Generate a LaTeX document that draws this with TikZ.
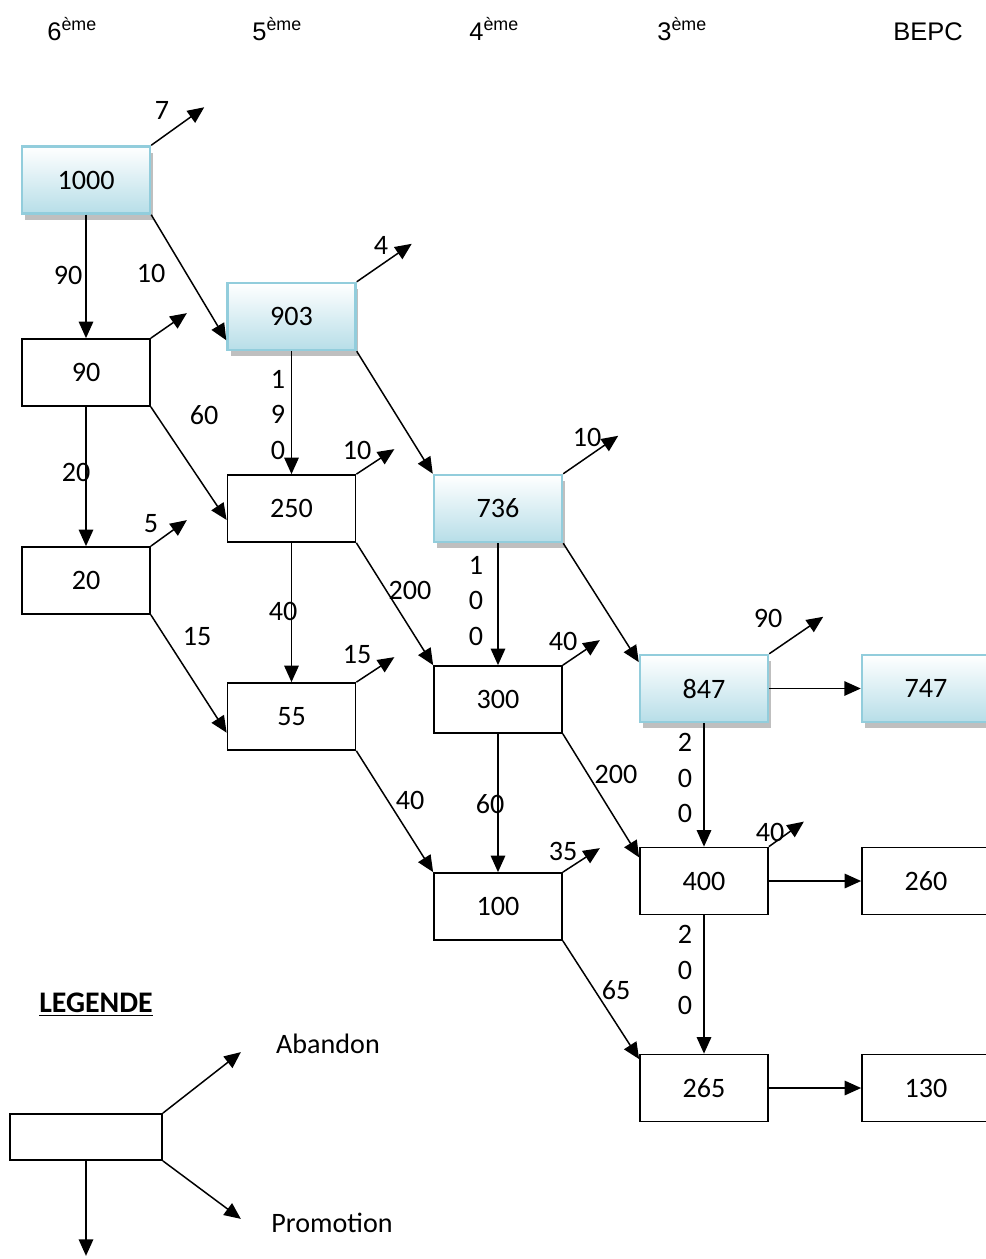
\documentclass[tikz,border=0pt]{standalone}
\usepackage{fontspec}
\setmainfont{Carlito}
\newfontfamily\arialfont{Liberation Sans}
\usetikzlibrary{arrows.meta,shadows}
\definecolor{cadre}{RGB}{146,205,220}
\definecolor{fond}{RGB}{183,222,232}

\begin{document}
\begin{tikzpicture}[x=0.02cm,y=-0.02cm,
    boite/.style={draw,line width=1pt,minimum width=2.56cm,minimum height=1.34cm,inner sep=0pt,font=\fontsize{16}{19}\selectfont},
    bleu/.style={boite,draw=cadre,line width=1.4pt,top color=white,bottom color=fond,
      drop shadow={shadow xshift=0.06cm,shadow yshift=-0.12cm,fill=gray!50,opacity=1}},
    arr/.style={-{Triangle[length=3.3mm,width=2.9mm]},line width=0.85pt},
    lab/.style={font=\fontsize{16}{20}\selectfont,align=center,inner sep=0pt},
    titre/.style={anchor=base west,inner sep=0pt,font=\arialfont\fontsize{14.5}{17}\selectfont}
  ]
  \useasboundingbox (0,0) rectangle (985,1259);

  % classes
  \node[titre] (h6) at (47,40) {6\textsuperscript{ème}};
  \node[titre] (h5) at (252,40) {5\textsuperscript{ème}};
  \node[titre] (h4) at (469,40) {4\textsuperscript{ème}};
  \node[titre] (h3) at (657,40) {3\textsuperscript{ème}};
  \node[titre] (hb) at (893,40) {BEPC};

  % effectifs
  \node[bleu] (n1000) at (86,180) {1000};
  \node[bleu] (n903) at (291.5,316.5) {903};
  \node[bleu] (n736) at (498,508.5) {736};
  \node[bleu] (n847) at (704,688.5) {847};
  \node[bleu] (n747) at (926,688.5) {747};
  \node[boite] (n90) at (86,372.5) {90};
  \node[boite] (n20) at (86,580.5) {20};
  \node[boite] (n250) at (291.5,508.5) {250};
  \node[boite] (n55) at (291.5,716.5) {55};
  \node[boite] (n300) at (498,699.5) {300};
  \node[boite] (n100) at (498,906.5) {100};
  \node[boite] (n400) at (704,881) {400};
  \node[boite] (n260) at (926,881) {260};
  \node[boite] (n265) at (704,1088) {265};
  \node[boite] (n130) at (926,1088) {130};

  % abandons
  \foreach \n/\dx/\dy in {1000/53/-38,903/55/-38,90/36/-25,250/38/-25,20/36/-26,736/55/-38,
                          55/38/-25,300/37/-25,847/54/-37,400/35/-25,100/37/-24} {
    \path (n\n.north east) ++(\dx,\dy) coordinate (ab\n);
    \draw[arr] (n\n.north east) -- (ab\n);
  }
  \foreach \t/\x/\y in {7/162/110,4/381/245,10/357/450,5/151/524,10/587/437,15/357/655,
                        40/563/641,90/768/618,40/770/832,35/563/851} {
    \node[lab] at (\x,\y) {\t};
  }

  % redoublements
  \draw[arr] (n1000) -- (n90);
  \draw[arr] (n90) -- (n20);
  \draw[arr] (n903) -- (n250);
  \draw[arr] (n250) -- (n55);
  \draw[arr] (n736) -- (n300);
  \draw[arr] (n300) -- (n100);
  \draw[arr] (n847) -- (n400);
  \draw[arr] (n400) -- (n265);

  % promotions
  \draw[arr] (n1000.south east) -- (n903.200);
  \draw[arr] (n90.south east) -- (n250.190);
  \draw[arr] (n20.south east) -- (n55.194);
  \draw[arr] (n903.south east) -- (n736.north west);
  \draw[arr] (n250.south east) -- (n300.north west);
  \draw[arr] (n55.south east) -- (n100.north west);
  \draw[arr] (n736.south east) -- (n847.158);
  \draw[arr] (n300.south east) -- (n400.160);
  \draw[arr] (n100.south east) -- (n265.156);
  \draw[arr] (n847) -- (n747);
  \draw[arr] (n400) -- (n260);
  \draw[arr] (n265) -- (n130);

  % valeurs
  \node[lab] at (68,275) {90};
  \node[lab] at (151,273) {10};
  \node[lab] at (204,415) {60};
  \node[lab] at (76,472) {20};
  \node[lab] at (197,637) {15};
  \node[lab] at (278,415) {1\\9\\0};
  \node[lab] at (283,611) {40};
  \node[lab] at (410,590) {200};
  \node[lab] at (410,800) {40};
  \node[lab] at (476,601) {1\\0\\0};
  \node[lab] at (490,804) {60};
  \node[lab] at (616,774) {200};
  \node[lab] at (616,990) {65};
  \node[lab] at (685,778) {2\\0\\0};
  \node[lab] at (685,970) {2\\0\\0};

  % legende
  \node[lab,font=\bfseries\fontsize{17}{20}\selectfont] (leg) at (96,1005) {\underline{LEGENDE}};
  \node[draw,line width=1pt,minimum width=3.04cm,minimum height=0.92cm,inner sep=0pt] (lbox) at (86,1137) {};
  \path (lbox.north east) ++(78,-61) coordinate (lab1);
  \path (lbox.south east) ++(78,58) coordinate (lpr);
  \path (lbox.south) ++(0,95) coordinate (lred);
  \draw[arr] (lbox.north east) -- (lab1);
  \draw[arr] (lbox.south east) -- (lpr);
  \draw[arr] (lbox.south) -- (lred);
  \node[lab] (tab) at (328,1044) {Abandon};
  \node[lab] (tpr) at (332,1223) {Promotion};
\end{tikzpicture}
\end{document}
